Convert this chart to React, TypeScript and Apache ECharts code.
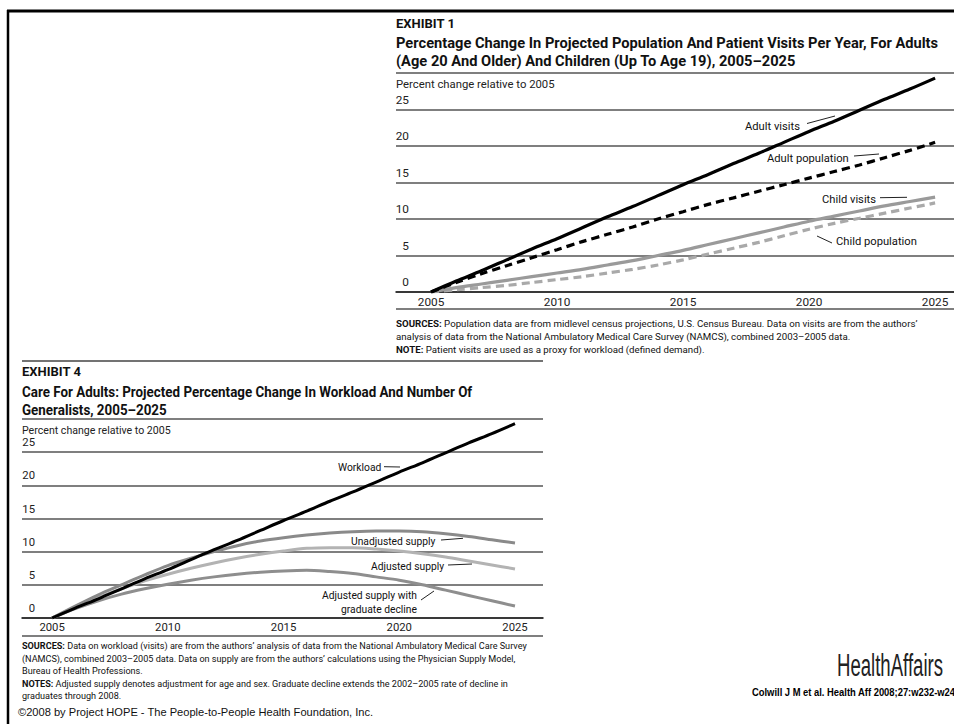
import React, { useEffect, useRef } from "react";
import * as echarts from "echarts";

// ---------- data ----------
const years = [2005, 2006, 2007, 2008, 2009, 2010, 2011, 2012, 2013, 2014, 2015, 2016, 2017, 2018, 2019, 2020, 2021, 2022, 2023, 2024, 2025];
const xTicks = [2005, 2010, 2015, 2020, 2025];

// Exhibit 1
const adultVisits = [0, 1.5, 2.9, 4.4, 5.9, 7.3, 8.8, 10.3, 11.7, 13.2, 14.7, 16.1, 17.6, 19.0, 20.5, 22.0, 23.4, 24.9, 26.4, 27.8, 29.3];
const adultPopulation = [0, 1.3, 2.5, 3.6, 4.7, 5.8, 6.9, 7.9, 8.9, 10.0, 11.0, 12.0, 12.9, 13.8, 14.7, 15.6, 16.5, 17.4, 18.4, 19.4, 20.5];
const childVisits = [0, 0.6, 1.1, 1.6, 2.1, 2.6, 3.1, 3.7, 4.3, 5.0, 5.7, 6.5, 7.3, 8.1, 8.9, 9.7, 10.4, 11.1, 11.8, 12.4, 13.0];
const childPopulation = [0, 0.3, 0.6, 0.9, 1.3, 1.7, 2.1, 2.6, 3.1, 3.7, 4.4, 5.2, 6.0, 6.8, 7.7, 8.6, 9.4, 10.1, 10.8, 11.5, 12.2];

// Exhibit 4
const workload = [0, 1.5, 2.9, 4.4, 5.9, 7.3, 8.8, 10.3, 11.7, 13.2, 14.7, 16.1, 17.6, 19.0, 20.5, 22.0, 23.4, 24.9, 26.4, 27.8, 29.3];
const unadjustedSupply = [0, 1.8, 3.5, 5.0, 6.5, 7.9, 9.0, 10.0, 10.9, 11.6, 12.1, 12.5, 12.8, 13.0, 13.1, 13.1, 13.0, 12.7, 12.3, 11.8, 11.3];
const adjustedSupply = [0, 1.6, 3.1, 4.4, 5.6, 6.6, 7.5, 8.3, 9.0, 9.6, 10.1, 10.5, 10.6, 10.6, 10.4, 10.1, 9.7, 9.2, 8.6, 8.0, 7.4];
const adjustedGradDecline = [0, 1.4, 2.6, 3.6, 4.4, 5.1, 5.7, 6.2, 6.6, 6.9, 7.1, 7.2, 7.0, 6.7, 6.2, 5.7, 5.0, 4.2, 3.4, 2.6, 1.8];

const toPairs = (vals: number[]) => years.map((y, i) => [y, vals[i]]);

const FONT = "Roboto, 'Noto Sans', sans-serif";
const ARIAL = "'Liberation Sans', Arial, sans-serif";
const GRID = "#555";

function txt(x: number, y: number, text: string, o: any = {}) {
  return {
    type: "text",
    x,
    y,
    scaleX: o.scaleX ?? 1,
    silent: true,
    style: {
      text,
      fill: o.fill ?? "#111",
      fontSize: o.size ?? 10,
      fontFamily: o.family ?? FONT,
      fontWeight: o.weight ?? "normal",
      textAlign: o.align ?? "left",
      textVerticalAlign: "middle",
      rich: o.rich,
    },
  };
}
function ln(x1: number, y1: number, x2: number, y2: number, stroke = "#222", w = 1) {
  return { type: "line", silent: true, shape: { x1, y1, x2, y2 }, style: { stroke, lineWidth: w } };
}

export default function App() {
  const ref = useRef<HTMLDivElement>(null);
  useEffect(() => {
    if (!ref.current) return;
    const chart = echarts.init(ref.current, null, { renderer: "svg" });

    const yAxisBase = (gridIndex: number, size: number) => ({
      type: "value",
      gridIndex,
      min: 0,
      max: 30,
      interval: 5,
      axisLine: { show: false },
      axisTick: { show: false },
      splitLine: { show: true, lineStyle: { color: GRID, width: 1.5 } },
      axisLabel: {
        inside: true,
        margin: 13,
        align: "right",
        verticalAlign: "bottom",
        padding: [0, 0, 4, 0],
        color: "#222",
        fontSize: size,
        fontFamily: FONT,
        formatter: (v: number) => (v >= 30 ? "" : String(v)),
      },
    });
    const xAxisBase = (gridIndex: number, min: number, max: number, size: number) => ({
      type: "value",
      gridIndex,
      min,
      max,
      axisLine: { show: true, onZero: true, lineStyle: { color: "#222", width: 1.6 } },
      axisTick: { show: false },
      splitLine: { show: false },
      axisLabel: {
        customValues: xTicks,
        margin: 4,
        color: "#222",
        fontSize: size,
        fontFamily: FONT,
        formatter: (v: number) => String(v),
      },
    });

    const lineSeries = (name: string, data: number[], idx: number, color: string, width: number, dashed?: boolean) => ({
      type: "line",
      name,
      xAxisIndex: idx,
      yAxisIndex: idx,
      data: toPairs(data),
      smooth: 0.3,
      showSymbol: false,
      symbol: "none",
      lineStyle: { color, width, type: dashed ? [8, 5] : "solid", cap: "butt" },
      z: 5,
    });

    const richTop = { b: { fontWeight: "bold", fontSize: 9.7, fontFamily: FONT, fill: "#111" } };
    const richBot = { b: { fontWeight: "bold", fontSize: 9.1, fontFamily: FONT, fill: "#111" } };

    const graphics: any[] = [
      // frame
      ln(7, 11, 954, 11, "#000", 3),
      ln(8, 10, 8, 724, "#000", 2.5),
      // Exhibit 1 header
      txt(396, 23, "EXHIBIT 1", { size: 13, weight: "bold" }),
      txt(396, 43, "Percentage Change In Projected Population And Patient Visits Per Year, For Adults", { size: 14, weight: "bold", scaleX: 1.047 }),
      txt(396, 61, "(Age 20 And Older) And Children (Up To Age 19), 2005–2025", { size: 14, weight: "bold", scaleX: 1.047 }),
      txt(396, 84, "Percent change relative to 2005", { size: 11.3, fill: "#222" }),
      ln(396, 309, 954, 309, GRID, 1.5),
      // Exhibit 1 labels
      txt(745, 126, "Adult visits", { size: 11.2 }),
      ln(807, 123.5, 835, 116, "#222", 1),
      txt(767, 158, "Adult population", { size: 11.2 }),
      ln(854, 156, 879, 154, "#222", 1),
      txt(822, 199, "Child visits", { size: 11.2 }),
      ln(880, 197.7, 907, 197.3, "#222", 1),
      txt(836, 241, "Child population", { size: 11.2 }),
      ln(817, 236, 832, 243, "#222", 1),
      // Exhibit 1 sources
      txt(396, 323, "{b|SOURCES:} Population data are from midlevel census projections, U.S. Census Bureau. Data on visits are from the authors’", { size: 9.7, rich: richTop }),
      txt(396, 336, "analysis of data from the National Ambulatory Medical Care Survey (NAMCS), combined 2003–2005 data.", { size: 9.7 }),
      txt(396, 349, "{b|NOTE:} Patient visits are used as a proxy for workload (defined demand).", { size: 9.7, rich: richTop }),
      // separator
      ln(22, 361, 543, 361, "#444", 1.5),
      // Exhibit 4 header
      txt(22, 371, "EXHIBIT 4", { size: 13, weight: "bold" }),
      txt(22, 392, "Care For Adults: Projected Percentage Change In Workload And Number Of", { size: 14, weight: "bold", scaleX: 0.956 }),
      txt(22, 410, "Generalists, 2005–2025", { size: 14, weight: "bold", scaleX: 0.956 }),
      txt(22, 430, "Percent change relative to 2005", { size: 10.6, fill: "#222" }),
      ln(22, 636, 543, 636, GRID, 1.5),
      // Exhibit 4 labels
      txt(338, 467, "Workload", { size: 10.3 }),
      ln(384, 466.7, 400, 467, "#222", 1),
      txt(351, 541, "Unadjusted supply", { size: 10.3 }),
      ln(441, 540, 463, 538.3, "#222", 1),
      txt(371, 566, "Adjusted supply", { size: 10.3 }),
      ln(448, 565, 472, 564, "#222", 1),
      txt(417, 595, "Adjusted supply with", { size: 10.3, align: "right" }),
      txt(417, 609, "graduate decline", { size: 10.3, align: "right" }),
      ln(421, 600, 434, 591, "#222", 1),
      // Exhibit 4 sources
      txt(22, 646, "{b|SOURCES:} Data on workload (visits) are from the authors’ analysis of data from the National Ambulatory Medical Care Survey", { size: 9.1, rich: richBot }),
      txt(22, 658.5, "(NAMCS), combined 2003–2005 data. Data on supply are from the authors’ calculations using the Physician Supply Model,", { size: 9.1 }),
      txt(22, 671, "Bureau of Health Professions.", { size: 9.1 }),
      txt(22, 683.5, "{b|NOTES:} Adjusted supply denotes adjustment for age and sex. Graduate decline extends the 2002–2005 rate of decline in", { size: 9.1, rich: richBot }),
      txt(22, 696, "graduates through 2008.", { size: 9.1 }),
      // footer
      txt(18, 712, "©2008 by Project HOPE - The People-to-People Health Foundation, Inc.", { size: 11.1, family: ARIAL, fill: "#111" }),
      txt(890, 665, "HealthAffairs", { size: 31, family: ARIAL, align: "center", scaleX: 0.6, fill: "#222" }),
      txt(752, 692, "Colwill J M et al. Health Aff 2008;27:w232-w241", { size: 10.8, family: ARIAL, weight: "bold", fill: "#000", scaleX: 0.87 }),
    ];

    chart.setOption({
      animation: false,
      backgroundColor: "#fff",
      grid: [
        { left: 396, right: 0, top: 73, bottom: 724 - 292, containLabel: false },
        { left: 22, right: 954 - 543, top: 419, bottom: 724 - 618, containLabel: false },
      ],
      xAxis: [xAxisBase(0, 2003.61, 2025.75, 11.8), xAxisBase(1, 2003.7, 2026.21, 11.3)],
      yAxis: [yAxisBase(0, 11.8), yAxisBase(1, 11.3)],
      series: [
        lineSeries("Child population", childPopulation, 0, "#a9a9a9", 3.2, true),
        lineSeries("Child visits", childVisits, 0, "#9a9a9a", 3.2),
        lineSeries("Adult population", adultPopulation, 0, "#000", 3.2, true),
        lineSeries("Adult visits", adultVisits, 0, "#000", 3.2),
        lineSeries("Adjusted supply with graduate decline", adjustedGradDecline, 1, "#8e8e8e", 3),
        lineSeries("Adjusted supply", adjustedSupply, 1, "#b3b3b3", 3),
        lineSeries("Unadjusted supply", unadjustedSupply, 1, "#8a8a8a", 3),
        lineSeries("Workload", workload, 1, "#000", 3),
      ],
      graphic: graphics,
    });
    return () => chart.dispose();
  }, []);
  return <div ref={ref} style={{ position: "absolute", left: 0, top: 0, width: 954, height: 724 }} />;
}
